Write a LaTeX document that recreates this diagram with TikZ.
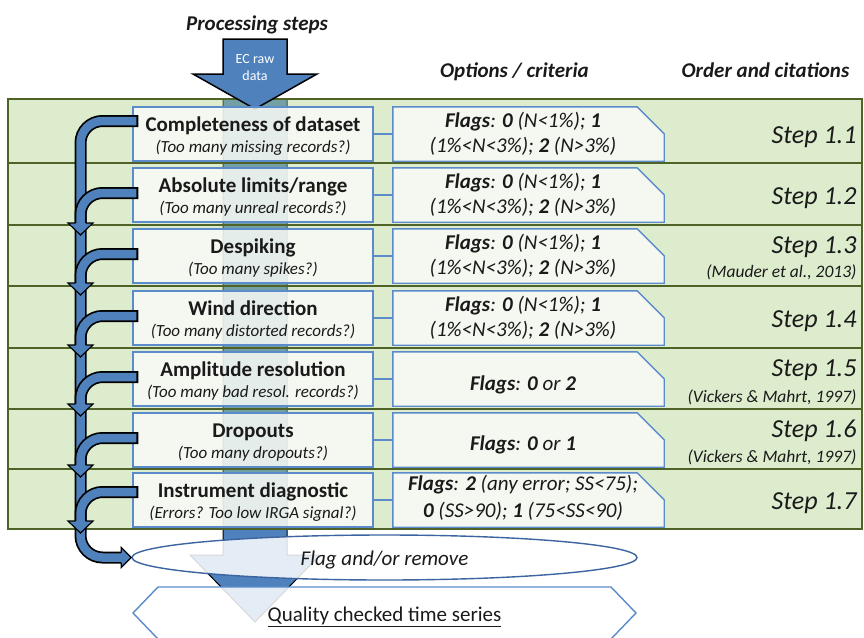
\documentclass[tikz,border=0pt]{standalone}
\usepackage{fontspec}
\setmainfont{Carlito}
\usetikzlibrary{shapes.geometric,calc}
\definecolor{ecblue}{HTML}{4F81BD}
\definecolor{boxline}{HTML}{5B8BCB}
\definecolor{ellline}{HTML}{3B64A0}
\definecolor{bandline}{HTML}{4F6228}
\definecolor{bandfill}{RGB}{170,208,130}
\definecolor{boxfill}{RGB}{250,251,247}
\definecolor{txt}{HTML}{1A1A1A}
\newcommand{\fs}[1]{\fontsize{#1}{#1}\selectfont}
\begin{document}
\begin{tikzpicture}[x=1pt,y=-1pt, every node/.style={text=txt},
 lbox/.style={draw=boxline, line width=1.4pt, fill=boxfill, fill opacity=0.85, minimum width=240pt, minimum height=54pt, inner sep=0pt},
 obox/.style={draw=none, minimum width=271pt, minimum height=54pt, inner sep=0pt},
 oshape/.style={draw=boxline, line width=1.4pt, fill=boxfill, fill opacity=0.85, line join=miter},
 conn/.style={draw=boxline, line width=1.4pt},
 ttl/.style={anchor=base, font=\fs{21}\bfseries},
 sub/.style={anchor=base, font=\fs{17}\itshape},
 opt/.style={anchor=base, font=\fs{21}\itshape},
 stp/.style={anchor=base east, font=\fs{26}\itshape},
 cit/.style={anchor=base east, font=\fs{17.5}\itshape},
 hdr/.style={anchor=base, font=\fs{21}\bfseries\itshape},
 blk/.style={black, line width=12pt, rounded corners=22pt},
 blu/.style={ecblue, line width=8.5pt, rounded corners=22pt},
 hd/.style={black, line width=1.2pt, fill=ecblue, line join=miter}
]
\useasboundingbox (0,0) rectangle (864,637);
\clip (0,0) rectangle (864,637);
\fill[white] (0,0) rectangle (864,637);

% big background arrow
\draw[fill=ecblue, draw=black, line width=1pt, line join=miter] (223,99) -- (287,99) -- (287,555) -- (320,555) -- (255,622) -- (190,555) -- (223,555) -- cycle;

% green band
\fill[bandfill, fill opacity=0.4] (8,99) rectangle (862,529);
\foreach \y in {163,225,286,348,409,469} \draw[bandline, line width=1.8pt] (8,\y) -- (862,\y);
\draw[bandline, line width=2pt] (8,99) rectangle (862,529);

% EC raw data arrow
\draw[fill=ecblue, draw=black, line width=1.5pt, line join=miter] (223,39) -- (287,39) -- (287,74) -- (317,74) -- (255,109) -- (193,74) -- (223,74) -- cycle;
\node[font=\fs{14}, text=white, anchor=base] (ec1) at (255,63) {EC raw};
\node[font=\fs{14}, text=white, anchor=base] (ec2) at (255,80) {data};

% headers
\node[hdr] (h1) at (257,30) {Processing steps};
\node[hdr] (h2) at (514.5,77) {Options / criteria};
\node[hdr] (h3) at (765.5,77) {Order and citations};

% boxes
\foreach \i/\c in {1/134,2/195,3/256,4/318,5/379,6/440,7/500} {
  \node[lbox] (l\i) at (253,\c) {};
  \node[obox] (o\i) at (528.5,\c) {};
  \draw[oshape] (o\i.south west) -- (o\i.north west) -- ($(o\i.north east)+(-27,0)$) -- ($(o\i.north east)+(0,27)$) -- (o\i.south east) -- cycle;
  \draw[conn] (l\i.east) -- (o\i.west);
}

% ellipse and hexagon
\node[ellipse, draw=ellline, line width=1.4pt, fill=white, fill opacity=0.85, minimum width=505pt, minimum height=45pt, inner sep=0pt] (fr) at (384.5,557.5) {};
\node[anchor=base, font=\fs{21}\itshape] (frt) at (384.5,565) {Flag and/or remove};
\draw[draw=boxline, line width=1.4pt, fill=white, fill opacity=0.85, line join=miter] (133,613) -- (158,587) -- (611,587) -- (636,613) -- (611,639) -- (158,639) -- cycle;
\node[anchor=base, font=\fs{21}] (qc) at (384.5,621) {\underline{Quality checked time series}};

% left curved arrows
\foreach \i/\d in {1/-13,2/-2,3/-2,4/-2,5/-2,6/-2,7/-8}
  \coordinate (b\i) at ($(l\i.west)+(6,\d)$);
\draw[blk] (b1) -| (80.5,500) |- ($(fr.west)+(-10,0)$);
\draw[blu] ($(b1)+(-2,0)$) -| (80.5,500) |- ($(fr.west)+(-9,0)$);
\draw[hd] ($(fr.west)+(-10,-5)$) -- ($(fr.west)+(-10,-10)$) -- (fr.west) -- ($(fr.west)+(-10,10)$) -- ($(fr.west)+(-10,5)$);
\foreach \i/\t in {2/235,3/295,4/357,5/416,6/477,7/533} {
  \coordinate (tp\i) at (80.5,\t);
  \draw[blk] (b\i) -| ($(tp\i)+(0,-12)$);
  \draw[blu] ($(b\i)+(-2,0)$) -| ($(tp\i)+(0,-11)$);
  \draw[hd] ($(tp\i)+(-5,-12)$) -- ($(tp\i)+(-12.5,-12)$) -- (tp\i) -- ($(tp\i)+(12.5,-12)$) -- ($(tp\i)+(5,-12)$);
}

% left box texts
\foreach \i/\c/\t/\s in {1/134/{Completeness of dataset}/{(Too many missing records?)},
  2/195/{Absolute limits/range}/{(Too many unreal records?)},
  3/256/{Despiking}/{(Too many spikes?)},
  4/318/{Wind direction}/{(Too many distorted records?)},
  5/379/{Amplitude resolution}/{(Too many bad resol. records?)},
  6/440/{Dropouts}/{(Too many dropouts?)},
  7/500/{Instrument diagnostic}/{(Errors? Too low IRGA signal?)}} {
  \node[ttl] (tt\i) at (253,\c-3) {\t};
  \node[sub] (sb\i) at (253,\c+18) {\s};
}

% option texts
\foreach \i/\c in {1/134,2/195,3/256,4/318} {
  \node[opt] (oa\i) at (523,\c-7) {\textbf{Flags}: \textbf{0} (N<1\%); \textbf{1}};
  \node[opt] (ob\i) at (523,\c+18) {(1\%<N<3\%); \textbf{2} (N>3\%)};
}
\node[opt] (oa5) at (523,390) {\textbf{Flags}: \textbf{0} or \textbf{2}};
\node[opt] (oa6) at (523,450) {\textbf{Flags}: \textbf{0} or \textbf{1}};
\node[opt] (oa7) at (523,490) {\textbf{Flags}: \textbf{2} (any error; SS<75);};
\node[opt] (ob7) at (523,517) {\textbf{0} (SS>90); \textbf{1} (75<SS<90)};

% steps
\node[stp] (st1) at (860,143) {Step 1.1};
\node[stp] (st2) at (860,204) {Step 1.2};
\node[stp] (st3) at (860,253.5) {Step 1.3};
\node[cit] (ct3) at (860,277) {(Mauder et al., 2013)};
\node[stp] (st4) at (860,327) {Step 1.4};
\node[stp] (st5) at (860,376.5) {Step 1.5};
\node[cit] (ct5) at (860,402) {(Vickers \& Mahrt, 1997)};
\node[stp] (st6) at (860,437) {Step 1.6};
\node[cit] (ct6) at (860,462) {(Vickers \& Mahrt, 1997)};
\node[stp] (st7) at (860,509) {Step 1.7};
\end{tikzpicture}
\end{document}
